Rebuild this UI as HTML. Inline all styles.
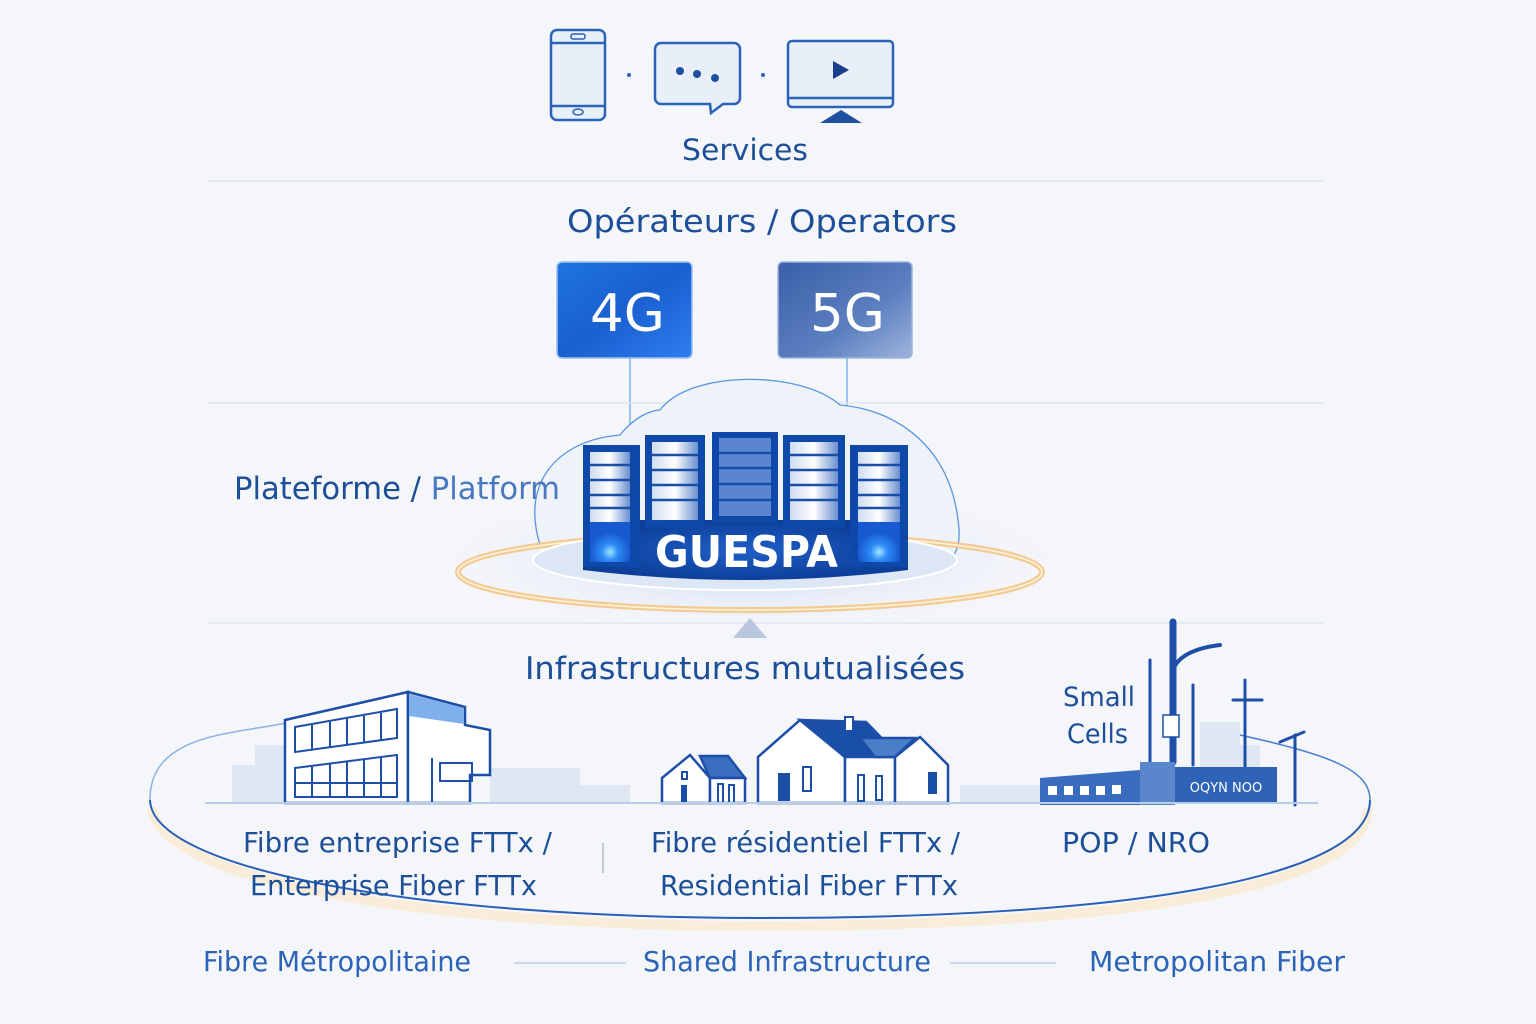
<!DOCTYPE html>
<html><head><meta charset="utf-8"><style>
html,body{margin:0;padding:0;background:#f5f6fa;}
svg{display:block}
text{font-family:"DejaVu Sans","Liberation Sans",sans-serif;}
</style></head><body>
<svg width="1536" height="1024" viewBox="0 0 1536 1024" xmlns="http://www.w3.org/2000/svg">
<defs>
<linearGradient id="g4" x1="0" y1="0" x2="1" y2="1"><stop offset="0" stop-color="#1e74e0"/><stop offset="0.5" stop-color="#1a5fd0"/><stop offset="1" stop-color="#2f7ef0"/></linearGradient>
<linearGradient id="g5" x1="0" y1="0" x2="1" y2="1"><stop offset="0" stop-color="#3a5fa8"/><stop offset="0.6" stop-color="#5c7fc0"/><stop offset="1" stop-color="#9eb4dc"/></linearGradient>
<linearGradient id="srv" x1="0" y1="0" x2="1" y2="0"><stop offset="0" stop-color="#cfdcf0"/><stop offset="0.5" stop-color="#ffffff"/><stop offset="1" stop-color="#6b8fcf"/></linearGradient>
<radialGradient id="base" cx="0.5" cy="0.5" r="0.5"><stop offset="0" stop-color="#1f5fc8"/><stop offset="1" stop-color="#0d3f9a"/></radialGradient>
<radialGradient id="glow" cx="0.5" cy="0.5" r="0.5"><stop offset="0" stop-color="#b8cdf0" stop-opacity="0.8"/><stop offset="1" stop-color="#e8eef8" stop-opacity="0"/></radialGradient>
<radialGradient id="led" cx="0.5" cy="0.75" r="0.5"><stop offset="0" stop-color="#9fe8ff"/><stop offset="0.4" stop-color="#2f8cf5"/><stop offset="1" stop-color="#1659d0"/></radialGradient>
</defs>
<rect width="1536" height="1024" fill="#f5f6fa"/>

<g fill="#e9eff9" stroke="#2b63b8" stroke-width="2.5">
<rect x="551" y="30" width="54" height="90" rx="6"/>
<line x1="551" y1="43" x2="605" y2="43"/><line x1="551" y1="106" x2="605" y2="106"/>
<path d="M661 43 H734 a6 6 0 0 1 6 6 V98 a6 6 0 0 1 -6 6 H723 L711 113 L710 104 H661 a6 6 0 0 1 -6 -6 V49 a6 6 0 0 1 6 -6 Z"/>
<rect x="788" y="41" width="105" height="66" rx="4"/>
<line x1="788" y1="98" x2="893" y2="98"/>
</g>
<rect x="571" y="34" width="14" height="5" rx="2" fill="none" stroke="#2b63b8" stroke-width="1.5"/>
<ellipse cx="578" cy="112" rx="5" ry="3" fill="none" stroke="#2b63b8" stroke-width="1.5"/>
<circle cx="680" cy="71" r="4" fill="#1f4fa0"/><circle cx="697" cy="74" r="4" fill="#1f4fa0"/><circle cx="715" cy="78" r="4" fill="#1f4fa0"/>
<polygon points="833,61 833,79 849,70" fill="#1a3f8a"/>
<polygon points="820,123 841,110 862,123" fill="#1f4fa0"/>
<circle cx="629" cy="75" r="2" fill="#2b63b8"/><circle cx="763" cy="75" r="2" fill="#2b63b8"/>
<text x="682" y="160" font-size="29" fill="#1d4f98" textLength="126" lengthAdjust="spacingAndGlyphs">Services</text>
<line x1="208" y1="181" x2="1323" y2="181" stroke="#dfe5ee" stroke-width="1.5"/>

<text x="567" y="232" font-size="31" fill="#1d4f98" textLength="390" lengthAdjust="spacingAndGlyphs">Opérateurs / Operators</text>
<rect x="557" y="262" width="135" height="96" rx="5" fill="url(#g4)" stroke="#9ec0f0" stroke-width="1.5"/>
<rect x="778" y="262" width="134" height="96" rx="5" fill="url(#g5)" stroke="#9eb4dc" stroke-width="1.5"/>
<text x="590" y="331" font-size="52" fill="#fff" textLength="75" lengthAdjust="spacingAndGlyphs">4G</text>
<text x="810" y="331" font-size="52" fill="#fff" textLength="75" lengthAdjust="spacingAndGlyphs">5G</text>
<line x1="630" y1="358" x2="630" y2="440" stroke="#7fb0ec" stroke-width="1.5"/>
<line x1="847" y1="358" x2="847" y2="440" stroke="#7fb0ec" stroke-width="1.5"/>
<line x1="208" y1="403" x2="1323" y2="403" stroke="#dfe5ee" stroke-width="1.5"/>

<ellipse cx="750" cy="560" rx="320" ry="75" fill="url(#glow)"/>
<path d="M540 545 C520 480 560 440 620 435 C640 410 660 410 660 410 C690 370 800 370 840 405 C900 410 950 450 958 520 C962 545 955 555 950 560" fill="#eef2f9" stroke="#5b95e0" stroke-width="1.3"/>
<text x="234" y="499" font-size="31" fill="#1d4f98" textLength="326" lengthAdjust="spacingAndGlyphs">Plateforme / <tspan fill="#4a78c0">Platform</tspan></text>
<ellipse cx="750" cy="572" rx="292" ry="38" fill="none" stroke="#f3c27a" stroke-width="6" opacity="0.8"/>
<ellipse cx="750" cy="572" rx="292" ry="38" fill="none" stroke="#fff3df" stroke-width="1.5"/>
<ellipse cx="745" cy="560" rx="212" ry="30" fill="#dce6f5" stroke="#ffffff" stroke-width="2"/>
<path d="M583 520 H908 V570 Q746 590 583 570 Z" fill="url(#base)"/>
<g>
<rect x="583" y="445" width="57" height="122" fill="#0e48a8"/>
<rect x="590" y="452" width="40" height="70" fill="url(#srv)"/>
<rect x="590" y="522" width="40" height="40" fill="url(#led)"/>
<rect x="645" y="435" width="60" height="92" fill="#0e48a8"/>
<rect x="652" y="442" width="46" height="78" fill="url(#srv)"/>
<rect x="712" y="432" width="66" height="90" fill="#0e48a8"/>
<rect x="719" y="438" width="52" height="78" fill="#5a86d0"/>
<rect x="783" y="435" width="62" height="92" fill="#0e48a8"/>
<rect x="790" y="442" width="48" height="78" fill="url(#srv)"/>
<rect x="850" y="445" width="58" height="122" fill="#0e48a8"/>
<rect x="858" y="452" width="42" height="70" fill="url(#srv)"/>
<rect x="858" y="522" width="42" height="40" fill="url(#led)"/>
<g stroke="#1a4fa8" stroke-width="2.5">
<line x1="590" y1="465" x2="630" y2="465"/><line x1="590" y1="480" x2="630" y2="480"/><line x1="590" y1="495" x2="630" y2="495"/><line x1="590" y1="508" x2="630" y2="508"/>
<line x1="652" y1="455" x2="698" y2="455"/><line x1="652" y1="470" x2="698" y2="470"/><line x1="652" y1="485" x2="698" y2="485"/><line x1="652" y1="500" x2="698" y2="500"/>
<line x1="719" y1="453" x2="771" y2="453"/><line x1="719" y1="468" x2="771" y2="468"/><line x1="719" y1="484" x2="771" y2="484"/><line x1="719" y1="500" x2="771" y2="500"/>
<line x1="790" y1="455" x2="838" y2="455"/><line x1="790" y1="470" x2="838" y2="470"/><line x1="790" y1="485" x2="838" y2="485"/><line x1="790" y1="500" x2="838" y2="500"/>
<line x1="858" y1="465" x2="900" y2="465"/><line x1="858" y1="480" x2="900" y2="480"/><line x1="858" y1="495" x2="900" y2="495"/><line x1="858" y1="508" x2="900" y2="508"/>
</g>
</g>
<text x="655" y="567" font-size="44" font-weight="bold" fill="#fff" textLength="183" lengthAdjust="spacingAndGlyphs">GUESPA</text>
<line x1="208" y1="623" x2="1323" y2="623" stroke="#dfe5ee" stroke-width="1.5"/>
<polygon points="733,638 750,618 767,638" fill="#b9c6de"/>

<text x="525" y="679" font-size="31" fill="#1d4f98" textLength="440" lengthAdjust="spacingAndGlyphs">Infrastructures mutualisées</text>

<!-- big ellipse -->
<path d="M152 808 C160 880 420 926 760 926 C1120 926 1368 888 1368 808" fill="none" stroke="#fbe9cc" stroke-width="10" opacity="0.7"/>
<path d="M150 800 C150 730 240 735 300 720" fill="none" stroke="#8fb2e6" stroke-width="1.5"/>
<path d="M1240 735 C1330 755 1370 770 1370 800" fill="none" stroke="#4a7ed0" stroke-width="1.5"/>
<path d="M150 800 C152 870 420 918 760 918 C1120 918 1370 880 1370 800" fill="none" stroke="#2a5fb8" stroke-width="2"/>
<g fill="#dfe7f3">
<rect x="232" y="765" width="55" height="38"/><rect x="255" y="745" width="30" height="58"/>
<rect x="490" y="768" width="90" height="35"/><rect x="580" y="785" width="50" height="18"/>
<rect x="1200" y="722" width="40" height="81"/><rect x="1235" y="745" width="25" height="58"/>
<rect x="960" y="785" width="80" height="18"/>
</g>
<g stroke="#1d4fa8" stroke-width="2.5" fill="#ffffff">
<path d="M285 720 L408 692 L408 803 L285 803 Z"/>
<path d="M408 692 L465 707 L465 725 L490 730 L490 775 L470 775 L470 803 L408 803 Z"/>
</g>
<path d="M409 694 L464 708 L464 724 L409 716 Z" fill="#7fb0ec"/>
<g fill="none" stroke="#1d4fa8" stroke-width="2">
<path d="M295 727 L397 709 L397 738 L295 752 Z"/><path d="M295 768 L397 755 L397 797 L295 797 Z"/>
<line x1="312" y1="725" x2="312" y2="750"/><line x1="330" y1="722" x2="330" y2="747"/><line x1="347" y1="719" x2="347" y2="745"/><line x1="364" y1="716" x2="364" y2="742"/><line x1="381" y1="713" x2="381" y2="740"/>
<line x1="312" y1="766" x2="312" y2="797"/><line x1="330" y1="763" x2="330" y2="797"/><line x1="347" y1="761" x2="347" y2="797"/><line x1="364" y1="759" x2="364" y2="797"/><line x1="381" y1="757" x2="381" y2="797"/>
<line x1="295" y1="783" x2="397" y2="783"/>
<rect x="440" y="763" width="32" height="18"/>
<line x1="432" y1="758" x2="432" y2="803"/>
</g>
<g stroke="#1d4fa8" stroke-width="2.5" fill="#fff">
<path d="M662 778 L690 755 L710 778 L710 803 L662 803 Z"/>
<path d="M700 756 L728 756 L745 778 L710 778 Z" fill="#3a6fc0"/>
<path d="M710 778 L745 778 L745 803 L710 803 Z"/>
<path d="M758 757 L800 720 L845 757 L845 803 L758 803 Z"/>
<path d="M800 720 L866 722 L900 757 L845 757 Z" fill="#1a4fa8"/>
<path d="M845 757 L895 757 L895 803 L845 803 Z"/>
<path d="M895 757 L920 737 L948 765 L948 803 L895 803 Z"/>
<path d="M860 738 L915 738 L895 757 L875 757 Z" fill="#4a7ec8"/>
</g>
<rect x="845" y="717" width="8" height="14" fill="#fff" stroke="#1d4fa8" stroke-width="2"/>
<g fill="#1a4fa8"><rect x="778" y="773" width="12" height="28"/><rect x="928" y="772" width="9" height="22"/><rect x="681" y="785" width="6" height="18"/></g>
<g fill="none" stroke="#1d4fa8" stroke-width="2"><rect x="803" y="767" width="8" height="24"/><rect x="858" y="775" width="6" height="26"/><rect x="876" y="776" width="6" height="24"/><rect x="718" y="784" width="5" height="19"/><rect x="729" y="785" width="5" height="18"/><rect x="682" y="772" width="5" height="7"/></g>
<g stroke="#1d4fa8" stroke-linecap="round" fill="none">
<line x1="1173" y1="622" x2="1173" y2="762" stroke-width="7"/>
<path d="M1173 670 Q1180 650 1220 645" stroke-width="4"/>
<line x1="1150" y1="660" x2="1150" y2="765" stroke-width="3"/>
<line x1="1193" y1="685" x2="1193" y2="765" stroke-width="3"/>
<line x1="1245" y1="680" x2="1245" y2="770" stroke-width="3"/><path d="M1233 700 L1262 700" stroke-width="3"/>
<line x1="1295" y1="735" x2="1295" y2="805" stroke-width="3"/><path d="M1280 742 L1304 732" stroke-width="3"/>
</g>
<rect x="1163" y="715" width="16" height="22" fill="#fff" stroke="#1d4fa8" stroke-width="1.5"/>
<path d="M1040 778 L1140 770 L1140 805 L1040 805 Z" fill="#3a6cc0"/>
<g fill="#fff"><rect x="1048" y="786" width="9" height="9"/><rect x="1064" y="786" width="9" height="9"/><rect x="1080" y="786" width="9" height="9"/><rect x="1096" y="786" width="9" height="9"/><rect x="1112" y="785" width="9" height="9"/></g>
<rect x="1140" y="762" width="35" height="43" fill="#5a86cc"/>
<rect x="1175" y="767" width="102" height="37" fill="#2f63b8"/>
<text x="1226" y="792" font-size="13" fill="#fff" text-anchor="middle">OQYN NOO</text>
<text x="1063" y="706" font-size="27" fill="#1d4f98" textLength="72" lengthAdjust="spacingAndGlyphs">Small</text>
<text x="1067" y="743" font-size="27" fill="#1d4f98" textLength="61" lengthAdjust="spacingAndGlyphs">Cells</text>
<line x1="205" y1="803" x2="1318" y2="803" stroke="#b9cde9" stroke-width="2"/>

<g font-size="28" fill="#1d4f98">
<text x="243" y="852" textLength="309" lengthAdjust="spacingAndGlyphs">Fibre entreprise FTTx /</text>
<text x="250" y="895" textLength="287" lengthAdjust="spacingAndGlyphs">Enterprise Fiber FTTx</text>
<text x="651" y="852" textLength="309" lengthAdjust="spacingAndGlyphs">Fibre résidentiel FTTx /</text>
<text x="660" y="895" textLength="298" lengthAdjust="spacingAndGlyphs">Residential Fiber FTTx</text>
<text x="1062" y="852" textLength="148" lengthAdjust="spacingAndGlyphs">POP / NRO</text>
</g>
<line x1="603" y1="843" x2="603" y2="873" stroke="#b0bccd" stroke-width="1.5"/>
<g font-size="28" fill="#2a63b8">
<text x="203" y="971" textLength="268" lengthAdjust="spacingAndGlyphs">Fibre Métropolitaine</text>
<text x="643" y="971" textLength="288" lengthAdjust="spacingAndGlyphs">Shared Infrastructure</text>
<text x="1089" y="971" textLength="256" lengthAdjust="spacingAndGlyphs">Metropolitan Fiber</text>
</g>
<line x1="514" y1="963" x2="626" y2="963" stroke="#b9cde9" stroke-width="1.5"/>
<line x1="950" y1="963" x2="1056" y2="963" stroke="#b9cde9" stroke-width="1.5"/>
</svg>
</body></html>
